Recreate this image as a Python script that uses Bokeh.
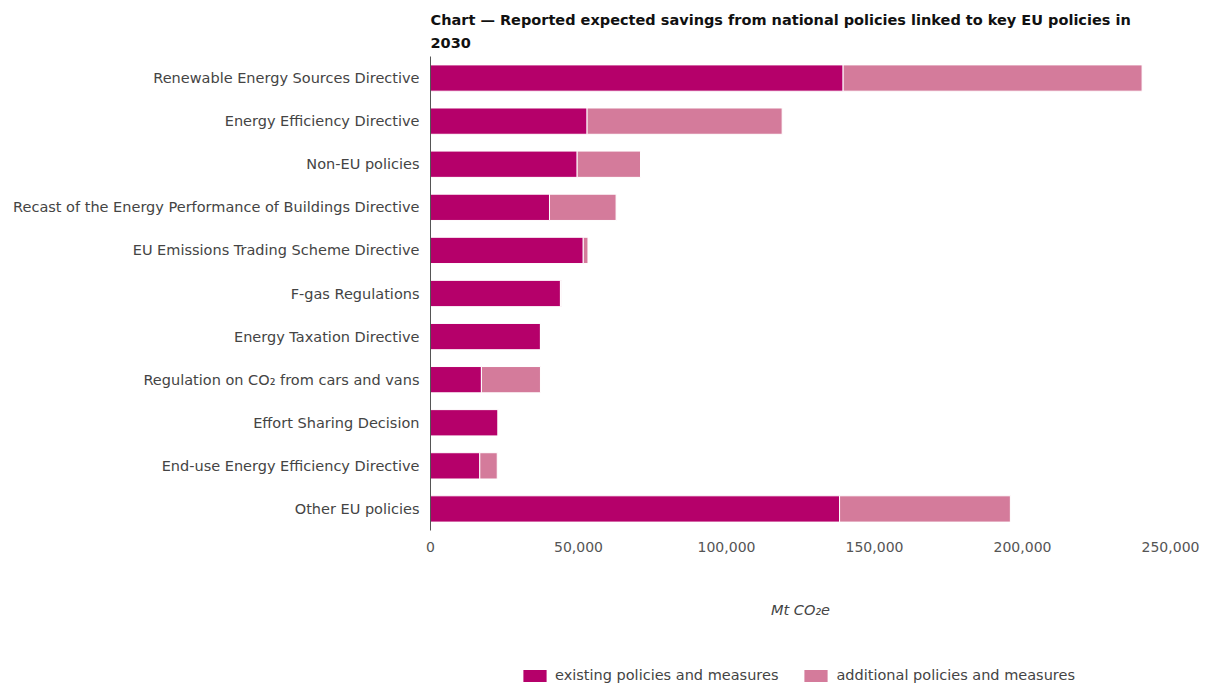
from bokeh.plotting import figure
from bokeh.layouts import column
from bokeh.models import ColumnDataSource, FactorRange, Range1d, Title, Legend, NumeralTickFormatter
from bokeh.embed import file_html
from bokeh.resources import INLINE

categories = [
    "Renewable Energy Sources Directive",
    "Energy Efficiency Directive",
    "Non-EU policies",
    "Recast of the Energy Performance of Buildings Directive",
    "EU Emissions Trading Scheme Directive",
    "F-gas Regulations",
    "Energy Taxation Directive",
    "Regulation on CO\u2082 from cars and vans",
    "Effort Sharing Decision",
    "End-use Energy Efficiency Directive",
    "Other EU policies",
]
existing = [139400, 52900, 49550, 40200, 51600, 43900, 37150, 17200, 22850, 16650, 138200]
additional = [101000, 65900, 21400, 22500, 1600, 300, 0, 19950, 0, 5900, 57700]
series = ["existing policies and measures", "additional policies and measures"]
colors = ["#b5006a", "#d47b9b"]
x_ticks = [0, 50000, 100000, 150000, 200000, 250000]

FONT = "DejaVu Sans"
FS = "14.5px"

source = ColumnDataSource(data=dict(cat=categories, existing=existing, additional=additional))

p = figure(
    width=1206, height=630,
    y_range=FactorRange(*list(reversed(categories)), range_padding=0),
    x_range=(0, 250000),
    output_backend="svg", toolbar_location=None,
    min_border_left=430, min_border_right=36, min_border_top=56, min_border_bottom=100,
)

r = p.hbar_stack(["existing", "additional"], y="cat", height=0.61, color=colors,
                 line_color="white", line_width=1, source=source)

p.add_layout(Title(text="2030", text_font=FONT, text_font_size=FS,
                   text_font_style="bold", text_color="#111111", align="left",
                   standoff=17, offset=0), "above")
p.add_layout(Title(text="Chart \u2014 Reported expected savings from national policies linked to key EU policies in",
                   text_font=FONT, text_font_size=FS,
                   text_font_style="bold", text_color="#111111", align="left",
                   standoff=0, offset=0), "above")

p.xgrid.grid_line_color = None
p.ygrid.grid_line_color = None
p.outline_line_color = None

p.xaxis.ticker = x_ticks
p.xaxis.formatter = NumeralTickFormatter(format="0,0")
p.xaxis.axis_line_color = None
p.xaxis.major_tick_line_color = None
p.xaxis.minor_tick_line_color = None
p.xaxis.major_label_text_font = FONT
p.xaxis.major_label_text_font_size = "14px"
p.xaxis.major_label_text_color = "#555555"
p.xaxis.major_label_standoff = 5
p.xaxis.axis_label = "Mt CO\u2082e"
p.xaxis.axis_label_text_font = FONT
p.xaxis.axis_label_text_font_size = FS
p.xaxis.axis_label_text_font_style = "italic"
p.xaxis.axis_label_text_color = "#444444"
p.xaxis.axis_label_standoff = 47

p.yaxis.axis_line_color = "#555555"
p.yaxis.axis_line_width = 1
p.yaxis.major_tick_line_color = None
p.yaxis.minor_tick_line_color = None
p.yaxis.major_label_text_font = FONT
p.yaxis.major_label_text_font_size = FS
p.yaxis.major_label_text_color = "#444444"
p.yaxis.major_label_standoff = 5

# legend strip (its frame is aligned with the chart frame by the column layout)
lg = figure(width=1206, height=54,
            y_range=FactorRange("legend"), x_range=Range1d(0, 1),
            x_axis_type=None, y_axis_type=None,
            output_backend="svg", toolbar_location=None,
            min_border=0, min_border_left=430, min_border_right=36,
            min_border_top=0, min_border_bottom=0)
lg.outline_line_color = None
lg.xgrid.grid_line_color = None
lg.ygrid.grid_line_color = None
proxy = lg.hbar_stack(["existing", "additional"], y="cat", height=0.6, color=colors,
                      line_color=None, source=source)
legend = Legend(items=[(series[0], [proxy[0]]), (series[1], [proxy[1]])],
                orientation="horizontal", location=(90, 1),
                label_text_font=FONT, label_text_font_size=FS,
                label_text_color="#444444", glyph_width=29, glyph_height=15,
                spacing=23, padding=1, margin=0, border_line_color=None,
                background_fill_alpha=0, label_standoff=6, label_height=15)
lg.add_layout(legend, "center")

layout = column(p, lg, spacing=0)
open("out.html", "w").write(file_html(layout, INLINE))
